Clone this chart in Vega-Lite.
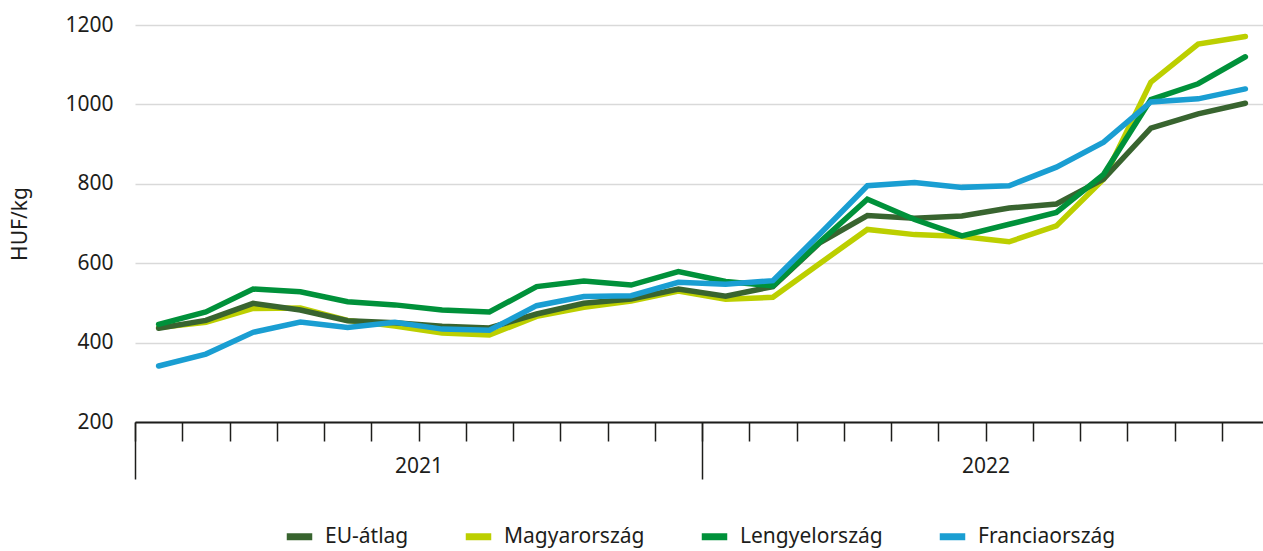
{
  "$schema": "https://vega.github.io/schema/vega-lite/v6.json",
  "autosize": "none",
  "width": 1128,
  "height": 397,
  "padding": {"left": 135, "top": 25, "right": 0, "bottom": 129},
  "config": {
    "font": "Noto Sans",
    "view": {"stroke": null},
    "legend": {"layout": {"bottom": {"anchor": "middle"}}}
  },
  "datasets": {
    "prices": [
      {"m": "2021-01", "s": "Magyarország", "v": 438}, {"m": "2021-02", "s": "Magyarország", "v": 451}, {"m": "2021-03", "s": "Magyarország", "v": 486}, {"m": "2021-04", "s": "Magyarország", "v": 487},
      {"m": "2021-05", "s": "Magyarország", "v": 456}, {"m": "2021-06", "s": "Magyarország", "v": 442}, {"m": "2021-07", "s": "Magyarország", "v": 424}, {"m": "2021-08", "s": "Magyarország", "v": 419},
      {"m": "2021-09", "s": "Magyarország", "v": 466}, {"m": "2021-10", "s": "Magyarország", "v": 489}, {"m": "2021-11", "s": "Magyarország", "v": 505}, {"m": "2021-12", "s": "Magyarország", "v": 530},
      {"m": "2022-01", "s": "Magyarország", "v": 509}, {"m": "2022-02", "s": "Magyarország", "v": 514}, {"m": "2022-03", "s": "Magyarország", "v": 600}, {"m": "2022-04", "s": "Magyarország", "v": 685},
      {"m": "2022-05", "s": "Magyarország", "v": 672}, {"m": "2022-06", "s": "Magyarország", "v": 667}, {"m": "2022-07", "s": "Magyarország", "v": 654}, {"m": "2022-08", "s": "Magyarország", "v": 694},
      {"m": "2022-09", "s": "Magyarország", "v": 812}, {"m": "2022-10", "s": "Magyarország", "v": 1056}, {"m": "2022-11", "s": "Magyarország", "v": 1152}, {"m": "2022-12", "s": "Magyarország", "v": 1171},

      {"m": "2021-01", "s": "EU-átlag", "v": 436}, {"m": "2021-02", "s": "EU-átlag", "v": 456}, {"m": "2021-03", "s": "EU-átlag", "v": 499}, {"m": "2021-04", "s": "EU-átlag", "v": 482},
      {"m": "2021-05", "s": "EU-átlag", "v": 455}, {"m": "2021-06", "s": "EU-átlag", "v": 450}, {"m": "2021-07", "s": "EU-átlag", "v": 441}, {"m": "2021-08", "s": "EU-átlag", "v": 437},
      {"m": "2021-09", "s": "EU-átlag", "v": 472}, {"m": "2021-10", "s": "EU-átlag", "v": 499}, {"m": "2021-11", "s": "EU-átlag", "v": 510}, {"m": "2021-12", "s": "EU-átlag", "v": 535},
      {"m": "2022-01", "s": "EU-átlag", "v": 517}, {"m": "2022-02", "s": "EU-átlag", "v": 541}, {"m": "2022-03", "s": "EU-átlag", "v": 652}, {"m": "2022-04", "s": "EU-átlag", "v": 720},
      {"m": "2022-05", "s": "EU-átlag", "v": 713}, {"m": "2022-06", "s": "EU-átlag", "v": 719}, {"m": "2022-07", "s": "EU-átlag", "v": 739}, {"m": "2022-08", "s": "EU-átlag", "v": 749},
      {"m": "2022-09", "s": "EU-átlag", "v": 812}, {"m": "2022-10", "s": "EU-átlag", "v": 940}, {"m": "2022-11", "s": "EU-átlag", "v": 976}, {"m": "2022-12", "s": "EU-átlag", "v": 1003},

      {"m": "2021-01", "s": "Lengyelország", "v": 446}, {"m": "2021-02", "s": "Lengyelország", "v": 477}, {"m": "2021-03", "s": "Lengyelország", "v": 535}, {"m": "2021-04", "s": "Lengyelország", "v": 528},
      {"m": "2021-05", "s": "Lengyelország", "v": 503}, {"m": "2021-06", "s": "Lengyelország", "v": 495}, {"m": "2021-07", "s": "Lengyelország", "v": 482}, {"m": "2021-08", "s": "Lengyelország", "v": 477},
      {"m": "2021-09", "s": "Lengyelország", "v": 541}, {"m": "2021-10", "s": "Lengyelország", "v": 555}, {"m": "2021-11", "s": "Lengyelország", "v": 545}, {"m": "2021-12", "s": "Lengyelország", "v": 579},
      {"m": "2022-01", "s": "Lengyelország", "v": 554}, {"m": "2022-02", "s": "Lengyelország", "v": 543}, {"m": "2022-03", "s": "Lengyelország", "v": 654}, {"m": "2022-04", "s": "Lengyelország", "v": 761},
      {"m": "2022-05", "s": "Lengyelország", "v": 710}, {"m": "2022-06", "s": "Lengyelország", "v": 669}, {"m": "2022-07", "s": "Lengyelország", "v": 698}, {"m": "2022-08", "s": "Lengyelország", "v": 728},
      {"m": "2022-09", "s": "Lengyelország", "v": 824}, {"m": "2022-10", "s": "Lengyelország", "v": 1012}, {"m": "2022-11", "s": "Lengyelország", "v": 1052}, {"m": "2022-12", "s": "Lengyelország", "v": 1120},

      {"m": "2021-01", "s": "Franciaország", "v": 341}, {"m": "2021-02", "s": "Franciaország", "v": 371}, {"m": "2021-03", "s": "Franciaország", "v": 426}, {"m": "2021-04", "s": "Franciaország", "v": 452},
      {"m": "2021-05", "s": "Franciaország", "v": 438}, {"m": "2021-06", "s": "Franciaország", "v": 451}, {"m": "2021-07", "s": "Franciaország", "v": 434}, {"m": "2021-08", "s": "Franciaország", "v": 431},
      {"m": "2021-09", "s": "Franciaország", "v": 493}, {"m": "2021-10", "s": "Franciaország", "v": 516}, {"m": "2021-11", "s": "Franciaország", "v": 518}, {"m": "2021-12", "s": "Franciaország", "v": 552},
      {"m": "2022-01", "s": "Franciaország", "v": 547}, {"m": "2022-02", "s": "Franciaország", "v": 556}, {"m": "2022-03", "s": "Franciaország", "v": 674}, {"m": "2022-04", "s": "Franciaország", "v": 795},
      {"m": "2022-05", "s": "Franciaország", "v": 803}, {"m": "2022-06", "s": "Franciaország", "v": 791}, {"m": "2022-07", "s": "Franciaország", "v": 795}, {"m": "2022-08", "s": "Franciaország", "v": 842},
      {"m": "2022-09", "s": "Franciaország", "v": 905}, {"m": "2022-10", "s": "Franciaország", "v": 1006}, {"m": "2022-11", "s": "Franciaország", "v": 1014}, {"m": "2022-12", "s": "Franciaország", "v": 1039}
    ],
    "years": [{"year": "2021"}, {"year": "2022"}]
  },
  "layer": [
    {
      "data": {"name": "years"},
      "mark": {"type": "rule", "strokeOpacity": 0},
      "encoding": {
        "x": {
          "field": "year", "type": "ordinal",
          "scale": {"type": "band", "paddingInner": 0, "paddingOuter": 0, "range": [0, 1134]},
          "axis": {
            "orient": "bottom", "title": null, "domain": false, "grid": false,
            "tickBand": "extent", "tickSize": 57, "tickWidth": 1.5, "tickColor": "#1d1d1b",
            "labelFontSize": 21, "labelColor": "#1d1d1b", "labelPadding": -24, "labelAngle": 0
          }
        }
      }
    },
    {
      "data": {"name": "prices"},
      "mark": {"type": "line", "strokeWidth": 5.5, "strokeCap": "round"},
      "encoding": {
        "x": {
          "field": "m", "type": "ordinal",
          "scale": {"type": "band", "paddingInner": 0, "paddingOuter": 0, "range": [0, 1134]},
          "axis": {
            "orient": "bottom", "title": null, "labels": false, "grid": false,
            "tickBand": "extent", "tickSize": 19, "tickWidth": 1.5, "tickColor": "#1d1d1b",
            "domainColor": "#1d1d1b", "domainWidth": 2
          }
        },
        "y": {
          "field": "v", "type": "quantitative",
          "scale": {"domain": [200, 1200], "nice": false, "zero": false},
          "axis": {
            "title": "HUF/kg", "values": [200, 400, 600, 800, 1000, 1200], "format": "d",
            "domain": false, "ticks": false, "labelPadding": 22,
            "labelFontSize": 21, "labelColor": "#1d1d1b",
            "titleFontSize": 21, "titleFontWeight": "normal", "titleColor": "#1d1d1b", "titlePadding": 34,
            "gridColor": "#d9d9d9", "gridWidth": 1.7
          }
        },
        "color": {
          "field": "s", "type": "nominal",
          "scale": {
            "domain": ["EU-átlag", "Magyarország", "Lengyelország", "Franciaország"],
            "range": ["#38642f", "#bccf00", "#00913a", "#1a9ed2"]
          },
          "legend": {
            "title": null, "orient": "bottom", "direction": "horizontal",
            "symbolType": "stroke", "symbolStrokeWidth": 7, "symbolSize": 650,
            "labelFontSize": 21, "labelColor": "#1d1d1b", "labelOffset": 9,
            "columnPadding": 42, "offset": 40
          }
        }
      }
    }
  ],
  "resolve": {"scale": {"x": "independent"}, "axis": {"x": "independent"}}
}
